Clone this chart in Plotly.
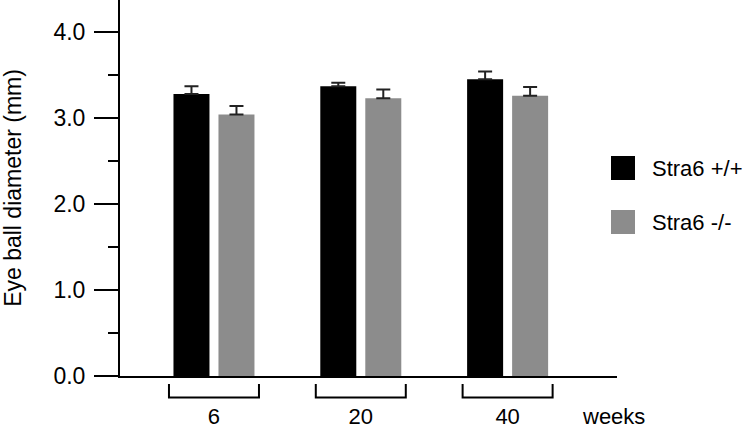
import plotly.graph_objects as go

# data
weeks = ['6', '20', '40']
series = ['Stra6 +/+', 'Stra6 -/-']
wt_mean = [3.28, 3.37, 3.45]
ko_mean = [3.04, 3.23, 3.26]
wt_err = [0.09, 0.04, 0.09]
ko_err = [0.10, 0.10, 0.10]
bar_colors = ['#000000', '#8c8c8c']

FONT = 'Liberation Sans, Arial, sans-serif'

# plot area in pixels (752x428 page)
L, R, T, B = 120, 135, 0, 52
W, H = 752, 428
PW, PH = W - L - R, H - T - B


def px_x(px):
    return (px - L) / PW


def px_y(py):
    return (T + PH - py) / PH


bargap = 0.387

fig = go.Figure()
for name, means, errs, col in zip(series, [wt_mean, ko_mean], [wt_err, ko_err], bar_colors):
    fig.add_trace(go.Bar(
        x=weeks, y=means, name=name,
        marker=dict(color=col, line=dict(width=0)),
        error_y=dict(type='data', array=errs, arrayminus=[0] * len(errs), symmetric=False,
                     color='#222222', thickness=2, width=7),
        showlegend=False,
    ))

# brackets under each group
half = (1 - bargap) / 2
for i in range(len(weeks)):
    x0, x1 = i - half, i + half
    y_top, y_bot = px_y(384), px_y(397.5)
    fig.add_shape(type='path', xref='x', yref='paper',
                  path=f'M {x0},{y_top} L {x0},{y_bot} L {x1},{y_bot} L {x1},{y_top}',
                  line=dict(color='black', width=2))

# hand-made legend with big squares
for k, (name, col) in enumerate(zip(series, bar_colors)):
    yc = 168 + 54 * k
    fig.add_shape(type='rect', xref='paper', yref='paper',
                  x0=px_x(611), x1=px_x(635), y0=px_y(yc - 12), y1=px_y(yc + 12),
                  fillcolor=col, line=dict(width=0))
    fig.add_annotation(text=name, xref='paper', yref='paper', x=px_x(650), y=px_y(yc),
                       xanchor='left', yanchor='middle', showarrow=False,
                       font=dict(family=FONT, size=22, color='black'))

fig.add_annotation(text='weeks', xref='paper', yref='paper', x=px_x(580), y=px_y(416),
                   xanchor='left', yanchor='middle', showarrow=False,
                   font=dict(family=FONT, size=22, color='black'))

fig.update_layout(
    width=W, height=H,
    margin=dict(l=L, r=R, t=T, b=B),
    paper_bgcolor='white', plot_bgcolor='white',
    barmode='group', bargap=bargap, bargroupgap=0.2,
    font=dict(family=FONT, size=22, color='black'),
    xaxis=dict(type='category', range=[-0.64, 2.745], showline=True, linecolor='black',
               linewidth=2, ticks='', ticklabelstandoff=20, showgrid=False, zeroline=False,
               automargin=False),
    yaxis=dict(range=[0, 4.372], tickvals=[0, 1, 2, 3, 4], ticktext=['0.0', '1.0', '2.0', '3.0', '4.0'],
               ticks='outside', ticklen=24, tickwidth=2, tickcolor='black',
               tickfont=dict(size=23),
               minor=dict(dtick=0.5, ticks='outside', ticklen=10, tickwidth=2, tickcolor='black'),
               showline=True, linecolor='black', linewidth=2, showgrid=False, zeroline=False,
               ticklabelstandoff=4, automargin=False,
               title=dict(text='Eye ball diameter (mm)', standoff=28, font=dict(size=23))),
)

# drop the page's default 8px body margin so the figure sits at the corner
fig.write_html('out.html', config={'displayModeBar': False},
               post_script="document.body.style.margin='0';")
